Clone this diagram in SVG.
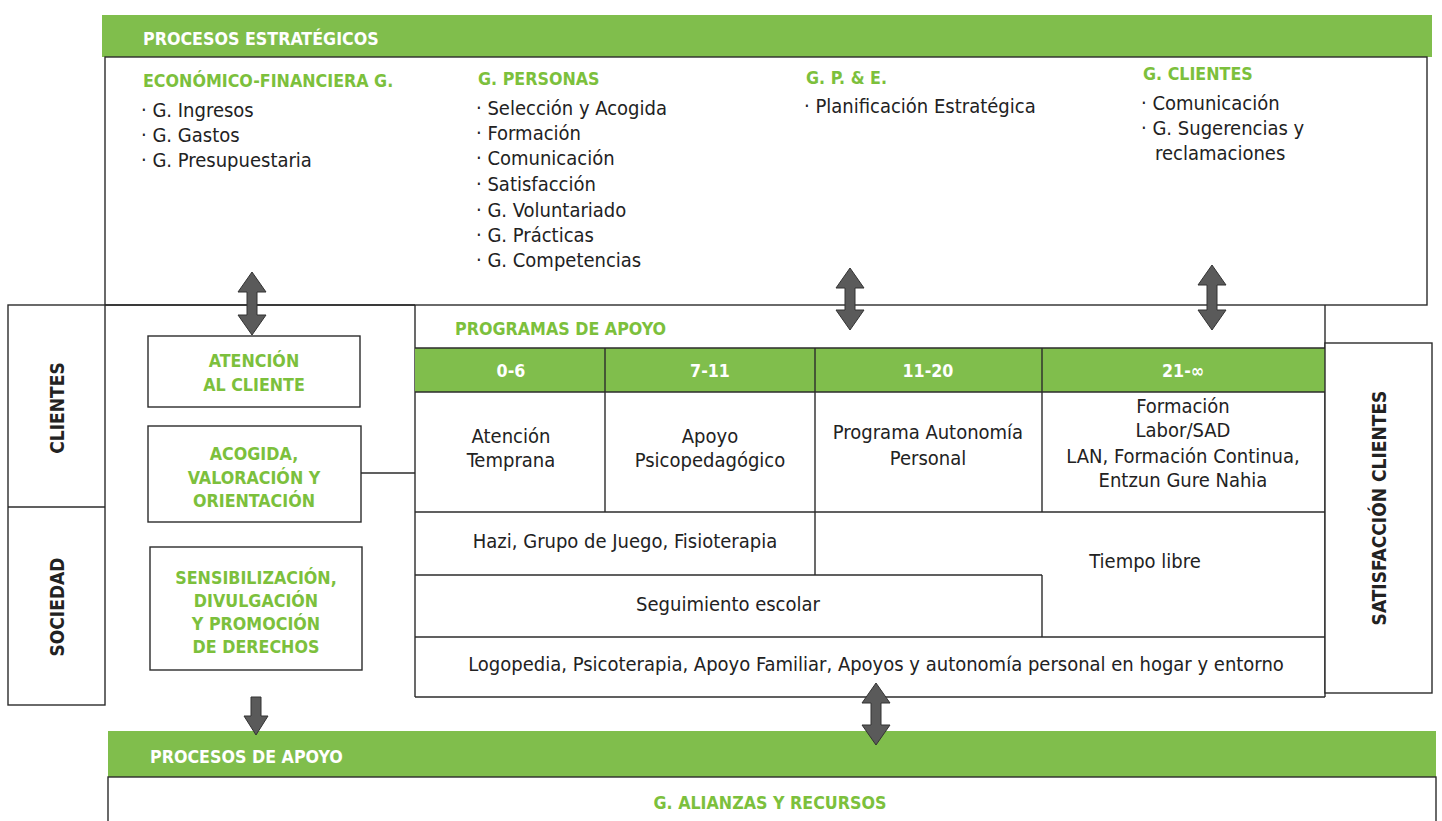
<svg xmlns="http://www.w3.org/2000/svg" width="1442" height="821" viewBox="0 0 1442 821">
<style>
.ln{fill:none;stroke:#2b2b2b;stroke-width:1.4}
.bx{fill:#fff;stroke:#2b2b2b;stroke-width:1.4}
.band{fill:#80be4c}
.t{font-family:'Liberation Sans Narrow','DejaVu Sans Condensed','Roboto Condensed','Liberation Sans',sans-serif;font-size:20px;fill:#222}
.c{text-anchor:middle}
.gh{font-family:'Liberation Sans Narrow','DejaVu Sans Condensed','Roboto Condensed','Liberation Sans',sans-serif;font-size:17.7px;font-weight:bold;fill:#7cc03c}
.wh{font-family:'Liberation Sans Narrow','DejaVu Sans Condensed','Roboto Condensed','Liberation Sans',sans-serif;font-size:17.7px;font-weight:bold;fill:#fff}
.vt{font-family:'Liberation Sans Narrow','DejaVu Sans Condensed','Roboto Condensed','Liberation Sans',sans-serif;font-size:19px;font-weight:bold;fill:#222;text-anchor:middle}
.ar{fill:#5a5a5a;stroke:#333;stroke-width:1}
</style>

<g id="estrategicos">
<rect class="band" x="102" y="15" width="1330" height="42"/>
<text class="wh" x="143" y="45">PROCESOS ESTRATÉGICOS</text>
<rect class="bx" x="105" y="57" width="1322" height="248"/>
<text class="gh" x="143" y="87">ECONÓMICO-FINANCIERA G.</text>
<text class="t" x="141" y="117">· G. Ingresos</text>
<text class="t" x="141" y="142">· G. Gastos</text>
<text class="t" x="141" y="167">· G. Presupuestaria</text>
<text class="gh" x="478" y="85">G. PERSONAS</text>
<text class="t" x="476" y="115">· Selección y Acogida</text>
<text class="t" x="476" y="140">· Formación</text>
<text class="t" x="476" y="165">· Comunicación</text>
<text class="t" x="476" y="191">· Satisfacción</text>
<text class="t" x="476" y="217">· G. Voluntariado</text>
<text class="t" x="476" y="242">· G. Prácticas</text>
<text class="t" x="476" y="267">· G. Competencias</text>
<text class="gh" x="806" y="84">G. P. &amp; E.</text>
<text class="t" x="804" y="113">· Planificación Estratégica</text>
<text class="gh" x="1143" y="80">G. CLIENTES</text>
<text class="t" x="1141" y="110">· Comunicación</text>
<text class="t" x="1141" y="135">· G. Sugerencias y</text>
<text class="t" x="1155" y="160">reclamaciones</text>
</g>

<g id="grupos">
<rect class="bx" x="8" y="305" width="97" height="400"/>
<line class="ln" x1="8" y1="507" x2="105" y2="507"/>
<text class="vt" transform="translate(64,408) rotate(-90)">CLIENTES</text>
<text class="vt" transform="translate(64,607) rotate(-90)">SOCIEDAD</text>
</g>

<g id="marco">
<line class="ln" x1="105" y1="305" x2="415" y2="305"/>
<line class="ln" x1="415" y1="305" x2="415" y2="697"/>
<line class="ln" x1="1325" y1="305" x2="1325" y2="697"/>
</g>

<g id="atencion-cliente">
<rect class="bx" x="148" y="336" width="212" height="71"/>
<text class="gh c" x="254" y="367">ATENCIÓN</text>
<text class="gh c" x="254" y="391">AL CLIENTE</text>
</g>
<g id="acogida">
<rect class="bx" x="148" y="426" width="213" height="96"/>
<text class="gh c" x="254" y="460">ACOGIDA,</text>
<text class="gh c" x="254" y="484">VALORACIÓN Y</text>
<text class="gh c" x="254" y="507">ORIENTACIÓN</text>
</g>
<g id="sensibilizacion">
<rect class="bx" x="150" y="547" width="212" height="123"/>
<text class="gh c" x="256" y="584">SENSIBILIZACIÓN,</text>
<text class="gh c" x="256" y="607">DIVULGACIÓN</text>
<text class="gh c" x="256" y="630">Y PROMOCIÓN</text>
<text class="gh c" x="256" y="653">DE DERECHOS</text>
</g>

<g id="programas">
<text class="gh" x="455" y="335">PROGRAMAS DE APOYO</text>
<rect class="band" x="415" y="348" width="910" height="44"/>
<line class="ln" x1="415" y1="348" x2="1325" y2="348"/>
<line class="ln" x1="415" y1="392" x2="1325" y2="392"/>
<text class="wh c" x="511" y="377">0-6</text>
<text class="wh c" x="710" y="377">7-11</text>
<text class="wh c" x="928" y="377">11-20</text>
<text class="wh c" x="1183" y="377">21-∞</text>
<line class="ln" x1="605" y1="348" x2="605" y2="512"/>
<line class="ln" x1="815" y1="348" x2="815" y2="575"/>
<line class="ln" x1="1042" y1="348" x2="1042" y2="512"/>
<line class="ln" x1="415" y1="512" x2="1325" y2="512"/>
<line class="ln" x1="415" y1="575" x2="1042" y2="575"/>
<line class="ln" x1="1042" y1="575" x2="1042" y2="637"/>
<line class="ln" x1="415" y1="637" x2="1325" y2="637"/>
<line class="ln" x1="415" y1="697" x2="1325" y2="697"/>
<text class="t c" x="511" y="443">Atención</text>
<text class="t c" x="511" y="467">Temprana</text>
<text class="t c" x="710" y="443">Apoyo</text>
<text class="t c" x="710" y="467">Psicopedagógico</text>
<text class="t c" x="928" y="439">Programa Autonomía</text>
<text class="t c" x="928" y="465">Personal</text>
<text class="t c" x="1183" y="413">Formación</text>
<text class="t c" x="1183" y="437">Labor/SAD</text>
<text class="t c" x="1183" y="463">LAN, Formación Continua,</text>
<text class="t c" x="1183" y="487">Entzun Gure Nahia</text>
<text class="t c" x="625" y="548">Hazi, Grupo de Juego, Fisioterapia</text>
<text class="t c" x="1145" y="568">Tiempo libre</text>
<text class="t c" x="728" y="611">Seguimiento escolar</text>
<text class="t c" x="876" y="671">Logopedia, Psicoterapia, Apoyo Familiar, Apoyos y autonomía personal en hogar y entorno</text>
</g>

<g id="satisfaccion">
<rect class="bx" x="1325" y="343" width="107" height="350"/>
<text class="vt" transform="translate(1386,508) rotate(-90)">SATISFACCIÓN CLIENTES</text>
</g>

<g id="apoyo">
<rect class="band" x="108" y="731" width="1328" height="46"/>
<text class="wh" x="150" y="763">PROCESOS DE APOYO</text>
<rect class="bx" x="108" y="777" width="1328" height="60"/>
<text class="gh c" x="770" y="809">G. ALIANZAS Y RECURSOS</text>
</g>

<g id="conectores">
<line class="ln" x1="361" y1="473" x2="415" y2="473"/>
<path class="ar" d="M252,272 L266,292 L257,292 L257,315 L266,315 L252,335 L238,315 L247,315 L247,292 L238,292 Z"/>
<path class="ar" d="M850,268 L864,288 L855,288 L855,310 L864,310 L850,330 L836,310 L845,310 L845,288 L836,288 Z"/>
<path class="ar" d="M1212,265 L1226,285 L1217,285 L1217,310 L1226,310 L1212,330 L1198,310 L1207,310 L1207,285 L1198,285 Z"/>
<path class="ar" d="M876,683 L890,703 L881,703 L881,725 L890,725 L876,745 L862,725 L871,725 L871,703 L862,703 Z"/>
<path class="ar" d="M251,697 L261,697 L261,716 L268,716 L256,735 L244,716 L251,716 Z"/>
</g>
</svg>
